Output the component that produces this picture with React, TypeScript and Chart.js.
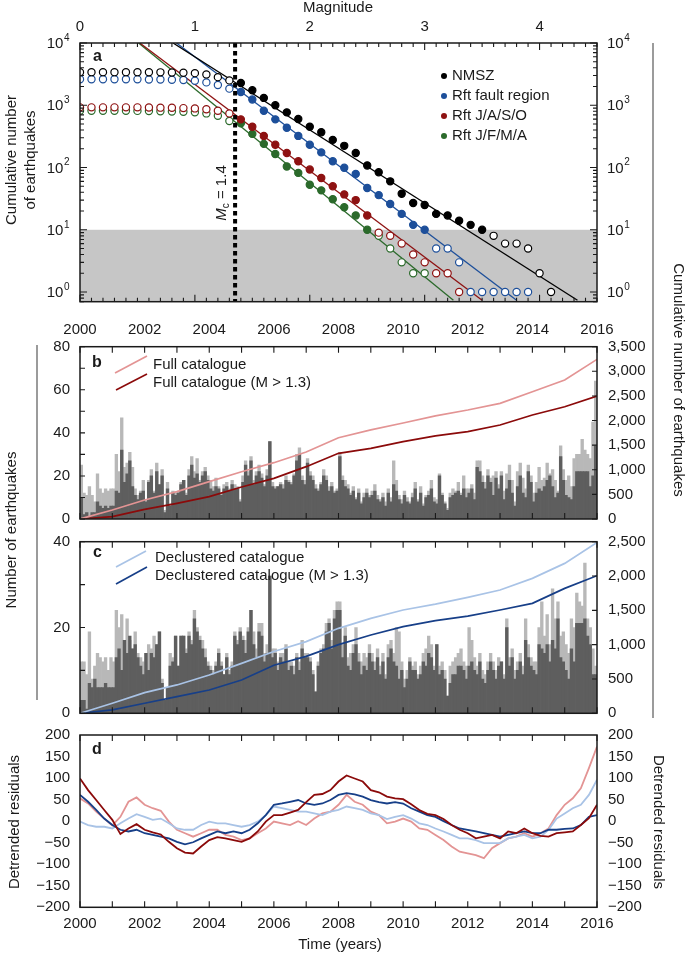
import React, { useEffect, useRef } from "react";
import { Chart, registerables } from "chart.js";

Chart.register(...registerables);

const W = 685;
const H = 955;
const FONT = "'Liberation Sans', Arial, Helvetica, sans-serif";
const INK = "#1a1a1a";

// ---------------- Panel a: magnitude–frequency ----------------
const MAGNITUDES = [
  0.0, 0.1, 0.2, 0.3, 0.4, 0.5, 0.6, 0.7, 0.8, 0.9, 1.0, 1.1, 1.2, 1.3,
  1.4, 1.5, 1.6, 1.7, 1.8, 1.9, 2.0, 2.1, 2.2, 2.3, 2.4, 2.5,
  2.6, 2.7, 2.8, 2.9, 3.0, 3.1, 3.2, 3.3, 3.4, 3.5, 3.6, 3.7, 3.8, 3.9, 4.0, 4.1,
];
const NMSZ_COUNTS = [
  3400, 3400, 3400, 3400, 3400, 3400, 3390, 3380, 3350, 3320, 3280, 3130, 2830, 2510,
  2275, 1740, 1312, 1000, 768, 601, 453, 369, 278, 223, 171, 108,
  84, 60, 38, 27, 25, 18, 17, 14, 12, 10, 8, 6, 6, 5, 2, 1,
];
const RFT_FAULT_COUNTS = [
  2610, 2610, 2610, 2610, 2610, 2605, 2600, 2590, 2570, 2540, 2480, 2330, 2120, 1850,
  1634, 1237, 815, 594, 436, 322, 232, 175, 126, 99, 79, 47,
  36, 26, 18, 12, 10, 5, 5, 3, 1, 1, 1, 1, 1, 1, null, null,
];
const RFT_JASO_COUNTS = [
  925, 925, 925, 925, 925, 925, 920, 915, 910, 900, 890, 865, 815, 740,
  594, 453, 322, 232, 171, 126, 93, 68, 50, 37, 30, 17,
  9, 8, 6, 4, 3, 2, 2, 1, null, null, null, null, null, null, null, null,
];
const RFT_JFMA_COUNTS = [
  815, 815, 815, 815, 815, 812, 808, 800, 795, 785, 770, 740, 680, 558,
  513, 347, 240, 165, 104, 82, 53, 43, 31, 23, 17, 10,
  8, 5, 3, 2, 2, null, null, null, null, null, null, null, null, null, null, null,
];
// fitted Gutenberg–Richter lines: [magnitude, count] end points
const NMSZ_FIT = [[0.81, 10000], [4.33, 0.74]];
const RFT_FAULT_FIT = [[0.84, 10000], [3.8, 0.74]];
const RFT_JASO_FIT = [[0.52, 10000], [3.5, 0.74]];
const RFT_JFMA_FIT = [[0.51, 10000], [3.25, 0.74]];
const SERIES_NAMES_A = ["NMSZ", "Rft fault region", "Rft J/A/S/O", "Rft J/F/M/A"];
const MAG_LABELS = [0, 1, 2, 3, 4];
const COUNT_DECADES = [0, 1, 2, 3, 4];
const MC_LABEL = "1.4";
const MC_VALUE = 1.4;
const MC_LINE_MAG = 1.35;
const SPARSE_LIMIT = 10;

// ---------------- Panels b & c: monthly counts 2000–2015 ----------------
const FULL_ALL = [
  25, 12, 11, 15, 11, 8, 21, 14, 12, 14, 13, 14,
  14, 30, 22, 47, 24, 26, 31, 24, 14, 11, 13, 18,
  9, 18, 23, 13, 26, 16, 23, 4, 17, 7, 13, 12,
  13, 17, 18, 12, 23, 29, 22, 28, 18, 22, 24, 20,
  18, 15, 19, 15, 12, 16, 17, 14, 18, 16, 15, 9,
  20, 27, 22, 29, 18, 22, 25, 21, 16, 23, 36, 17,
  15, 15, 17, 16, 20, 18, 17, 21, 30, 33, 20, 18,
  28, 22, 20, 16, 14, 17, 23, 20, 15, 17, 13, 14,
  31, 20, 18, 16, 12, 15, 10, 14, 8, 12, 14, 11,
  13, 16, 11, 9, 12, 8, 14, 10, 27, 18, 11, 9,
  13, 10, 8, 12, 17, 9, 15, 7, 11, 13, 18, 10,
  9, 21, 12, 8, 5, 12, 14, 13, 17, 12, 20, 14,
  14, 16, 12, 27, 27, 20, 17, 23, 19, 20, 22, 16,
  22, 13, 21, 25, 18, 8, 22, 26, 19, 14, 25, 20,
  12, 17, 24, 18, 19, 26, 21, 23, 18, 13, 34, 23,
  18, 20, 15, 28, 30, 30, 37, 32, 30, 28, 45, 64,
];
const FULL_M13 = [
  10, 2, 3, 1, 3, 3, 8, 6, 5, 6, 5, 6,
  6, 13, 12, 32, 17, 21, 27, 15, 11, 9, 12, 13,
  8, 17, 20, 12, 22, 16, 20, 3, 14, 6, 12, 11,
  12, 16, 18, 11, 20, 25, 19, 21, 17, 20, 22, 18,
  14, 13, 15, 14, 11, 14, 15, 13, 16, 14, 14, 8,
  17, 25, 20, 27, 16, 20, 22, 19, 15, 20, 36, 15,
  14, 15, 16, 14, 18, 17, 16, 20, 27, 30, 18, 16,
  26, 20, 18, 14, 13, 16, 20, 18, 13, 15, 12, 13,
  29, 18, 15, 14, 11, 13, 9, 12, 7, 10, 12, 10,
  11, 13, 9, 8, 10, 6, 12, 8, 16, 13, 9, 7,
  11, 8, 7, 10, 14, 8, 12, 6, 10, 11, 14, 8,
  7, 20, 11, 7, 4, 10, 11, 12, 13, 11, 14, 10,
  12, 14, 9, 24, 22, 17, 14, 20, 17, 11, 19, 14,
  20, 9, 14, 18, 12, 6, 15, 20, 12, 10, 22, 17,
  8, 12, 14, 13, 15, 18, 20, 15, 10, 12, 29, 18,
  11, 10, 9, 15, 22, 22, 22, 22, 22, 15, 20, 34,
];
const DECL_ALL = [
  12, 12, 9, 19, 8, 11, 14, 13, 12, 13, 10, 13,
  12, 24, 20, 23, 17, 22, 17, 15, 19, 14, 13, 12,
  14, 16, 15, 18, 16, 19, 8, 3, 6, 14, 13, 18,
  11, 18, 18, 15, 19, 17, 24, 20, 18, 17, 15, 12,
  11, 10, 12, 15, 12, 9, 14, 10, 12, 19, 17, 20,
  18, 17, 20, 24, 19, 15, 21, 21, 14, 16, 32, 15,
  15, 12, 14, 14, 16, 12, 12, 11, 14, 12, 17, 14,
  14, 13, 10, 5, 12, 15, 16, 21, 22, 17, 24, 26,
  26, 16, 20, 13, 14, 16, 20, 14, 12, 14, 13, 16,
  14, 12, 15, 11, 14, 9, 16, 17, 14, 20, 19, 12,
  8, 10, 13, 11, 12, 9, 11, 14, 15, 18, 16, 11,
  16, 11, 12, 10, 4, 11, 12, 13, 14, 15, 12, 11,
  20, 17, 13, 11, 14, 10, 9, 12, 14, 12, 10, 13,
  12, 9, 22, 13, 15, 10, 12, 14, 11, 22, 16, 13,
  12, 12, 20, 26, 18, 23, 16, 29, 22, 26, 18, 19,
  16, 14, 22, 20, 28, 26, 25, 35, 22, 20, 15, 11,
];
const DECL_M13 = [
  3, 3, 1, 7, 6, 8, 6, 6, 6, 7, 6, 6,
  6, 13, 15, 10, 17, 14, 18, 15, 16, 13, 11, 9,
  14, 10, 14, 13, 16, 19, 7, 3, 6, 11, 12, 18,
  11, 18, 18, 14, 18, 16, 22, 19, 17, 15, 13, 11,
  10, 9, 11, 14, 11, 9, 13, 9, 11, 18, 16, 19,
  17, 14, 19, 24, 16, 13, 19, 18, 12, 14, 32, 13,
  14, 10, 13, 12, 15, 10, 11, 9, 13, 10, 15, 13,
  13, 12, 9, 5, 11, 14, 15, 19, 21, 15, 22, 24,
  24, 13, 18, 11, 10, 14, 16, 12, 9, 11, 10, 14,
  12, 10, 13, 9, 12, 8, 13, 15, 12, 11, 8, 10,
  6, 8, 12, 10, 10, 8, 9, 12, 11, 14, 13, 10,
  16, 9, 10, 8, 4, 7, 9, 9, 11, 11, 10, 8,
  11, 12, 10, 9, 12, 8, 7, 10, 12, 10, 8, 11,
  12, 8, 20, 11, 13, 8, 10, 12, 9, 17, 13, 11,
  10, 9, 16, 15, 14, 16, 12, 17, 15, 22, 13, 12,
  10, 8, 15, 12, 21, 21, 21, 22, 18, 16, 9, 9,
];
// cumulative totals at the start of each year 2000..2016
const CUM_YEARS = [2000, 2001, 2002, 2003, 2004, 2005, 2006, 2007, 2008, 2009, 2010, 2011, 2012, 2013, 2014, 2015, 2016];
const FULL_CUM = [0, 183, 386, 555, 758, 961, 1144, 1360, 1650, 1810, 1950, 2095, 2214, 2349, 2586, 2823, 3243];
const FULL_M13_CUM = [0, 47, 196, 318, 454, 650, 826, 1063, 1334, 1435, 1571, 1690, 1774, 1909, 2112, 2281, 2498];
const DECL_CUM = [0, 146, 301, 413, 558, 728, 900, 1044, 1238, 1383, 1505, 1590, 1690, 1796, 1966, 2184, 2490];
const DECL_M13_CUM = [0, 49, 146, 243, 340, 485, 700, 830, 1000, 1140, 1262, 1350, 1417, 1505, 1602, 1820, 2005];

// ---------------- Panel d: detrended residuals (quarterly) ----------------
const FULL_RES = [
  53, 41, 22, 6, -10, 10, 45, 55, 38, 30, 24, -1, -20, -28, -36, -28,
  -20, -20, -32, -36, -44, -40, -28, -17, -1, -5, -9, 0, -9, 6, 18, 22,
  38, 61, 45, 38, 22, 14, -5, -1, 6, -1, -17, -20, -32, -44, -59, -71,
  -75, -79, -86, -63, -51, -40, -36, -28, -36, -28, -17, 14, 38, 53, 76, 123, 173,
];
const FULL_M13_RES = [
  99, 72, 49, 26, 3, -30, -17, -7, -20, -26, -31, -48, -63, -73, -75, -59,
  -44, -37, -40, -44, -48, -40, -24, -1, 14, 14, 20, 26, 44, 61, 63, 72,
  92, 106, 99, 92, 72, 67, 57, 53, 51, 39, 26, 17, 14, 5, -9, -20,
  -28, -40, -36, -32, -40, -24, -28, -17, -28, -34, -36, -28, -26, -24, -9, 7, 38,
];
const DECL_RES = [
  -1, -9, -13, -13, -17, -5, 6, 16, 10, 3, 6, -5, -17, -20, -20, -9,
  -1, -5, -5, -9, -13, -9, -1, 14, 34, 30, 26, 22, 22, 18, 14, 22,
  26, 34, 30, 26, 18, 14, 5, 10, 14, 6, -5, -9, -17, -24, -32, -40,
  -40, -44, -51, -51, -51, -40, -36, -32, -40, -36, -20, 6, 18, 30, 38, 61, 96,
];
const DECL_M13_RES = [
  61, 45, 26, 6, -9, -20, -24, -20, -28, -32, -36, -40, -48, -54, -49, -40,
  -32, -24, -28, -24, -28, -20, -5, 14, 38, 41, 45, 49, 41, 38, 41, 49,
  61, 65, 62, 57, 49, 44, 41, 44, 41, 30, 22, 14, 10, 0, -9, -17,
  -20, -24, -28, -32, -36, -32, -28, -24, -28, -28, -20, -20, -18, -17, -9, 10, 14,
];

// ---------------- colours ----------------
const C_BLACK = "#000000";
const C_BLUE = "#1d4f9a";
const C_RED = "#8e1212";
const C_GREEN = "#2b6a2b";
const C_PINK = "#e39494";
const C_DARKRED = "#8b0a0a";
const C_LIGHTBLUE = "#a9c3e6";
const C_DARKBLUE = "#173f88";
const C_BAR_LIGHT = "#b8b8b8";
const C_BAR_DARK = "#5e5e5e";
const C_BAND = "#c6c6c6";

// ---------------- helpers ----------------
const monthly = (vals: number[]) => vals.map((v, i) => ({ x: 2000 + (i + 0.5) / 12, y: v }));
const yearly = (vals: number[]) => vals.map((v, i) => ({ x: CUM_YEARS[i], y: v }));
const quarterly = (vals: number[]) => vals.map((v, i) => ({ x: 2000 + i / 4, y: v }));
const fitPts = (f: number[][]) => f.map(([x, y]) => ({ x, y }));
const fixH = (h: number) => (s: any) => { s.height = h; };
const fixW = (w: number) => (s: any) => { s.width = w; };
const comma = (v: number) => Number(v).toLocaleString("en-US");
const minus = (v: number) => (v < 0 ? "\u2212" + Math.abs(v) : String(v));

// plot-area geometry (left/right shared by all panels)
const PL = 80;
const PR = 597;
const TOP_A = 43, BOT_A = 301.7;
const TOP_B = 346.7, BOT_B = 519;
const TOP_C = 541.7, BOT_C = 713.3;
const TOP_D = 735, BOT_D = 907.3;

function txt(ctx: CanvasRenderingContext2D, s: string, x: number, y: number, o: any = {}) {
  ctx.save();
  ctx.font = `${o.style || "normal"} ${o.weight || "normal"} ${o.size || 15}px ${FONT}`;
  ctx.fillStyle = o.color || INK;
  ctx.textAlign = o.align || "left";
  ctx.textBaseline = o.baseline || "middle";
  ctx.translate(x, y);
  if (o.rotate) ctx.rotate(o.rotate);
  ctx.fillText(s, 0, 0);
  ctx.restore();
}

function frame(chart: any) {
  const { ctx, chartArea: a } = chart;
  ctx.save();
  ctx.strokeStyle = INK;
  ctx.lineWidth = 1.5;
  ctx.strokeRect(a.left, a.top, a.right - a.left, a.bottom - a.top);
  ctx.restore();
}

function ticksX(chart: any, id: string, vals: number[], len: (v: number) => number) {
  const { ctx, chartArea: a } = chart;
  const s = chart.scales[id];
  ctx.save();
  ctx.strokeStyle = INK;
  ctx.lineWidth = 1.1;
  ctx.beginPath();
  for (const v of vals) {
    const p = s.getPixelForValue(v);
    const l = len(v);
    ctx.moveTo(p, a.top);
    ctx.lineTo(p, a.top + l);
    ctx.moveTo(p, a.bottom);
    ctx.lineTo(p, a.bottom - l);
  }
  ctx.stroke();
  ctx.restore();
}

function ticksY(chart: any, id: string, vals: number[], len: (v: number) => number, side: string) {
  const { ctx, chartArea: a } = chart;
  const s = chart.scales[id];
  ctx.save();
  ctx.strokeStyle = INK;
  ctx.lineWidth = 1.1;
  ctx.beginPath();
  for (const v of vals) {
    const p = s.getPixelForValue(v);
    const l = len(v);
    if (side === "left" || side === "both") {
      ctx.moveTo(a.left, p);
      ctx.lineTo(a.left + l, p);
    }
    if (side === "right" || side === "both") {
      ctx.moveTo(a.right, p);
      ctx.lineTo(a.right - l, p);
    }
  }
  ctx.stroke();
  ctx.restore();
}

function vline(ctx: CanvasRenderingContext2D, x: number, y0: number, y1: number) {
  ctx.save();
  ctx.strokeStyle = "#7a7a7a";
  ctx.lineWidth = 1.5;
  ctx.beginPath();
  ctx.moveTo(x, y0);
  ctx.lineTo(x, y1);
  ctx.stroke();
  ctx.restore();
}

function legendLine(ctx: CanvasRenderingContext2D, color: string, x0: number, y0: number, x1: number, y1: number) {
  ctx.save();
  ctx.strokeStyle = color;
  ctx.lineWidth = 1.7;
  ctx.beginPath();
  ctx.moveTo(x0, y0);
  ctx.lineTo(x1, y1);
  ctx.stroke();
  ctx.restore();
}

const range = (a: number, b: number, step: number) => {
  const out: number[] = [];
  for (let v = a; v <= b + 1e-9; v += step) out.push(Math.round(v * 1000) / 1000);
  return out;
};
const YEAR_TICKS = range(2000, 2016, 1);

function baseOptions(pad: { left: number; top: number; right: number; bottom: number }) {
  return {
    responsive: false,
    maintainAspectRatio: false,
    animation: false,
    devicePixelRatio: 1,
    events: [],
    layout: { padding: pad, autoPadding: false },
    plugins: { legend: { display: false }, tooltip: { enabled: false } },
  };
}

function linearAxis(extra: any) {
  return {
    type: "linear",
    offset: false,
    grid: { display: false, drawTicks: false },
    border: { display: false },
    ...extra,
    ticks: {
      autoSkip: false,
      maxRotation: 0,
      minRotation: 0,
      includeBounds: false,
      color: INK,
      font: { size: 15, family: FONT },
      ...(extra.ticks || {}),
    },
  };
}

// ---------------- chart configs ----------------
function configA(): any {
  const counts = [NMSZ_COUNTS, RFT_FAULT_COUNTS, RFT_JASO_COUNTS, RFT_JFMA_COUNTS];
  const fits = [NMSZ_FIT, RFT_FAULT_FIT, RFT_JASO_FIT, RFT_JFMA_FIT];
  const colors = [C_BLACK, C_BLUE, C_RED, C_GREEN];
  const pointSets = counts.map((c, k) => ({
    type: "scatter",
    label: SERIES_NAMES_A[k],
    data: MAGNITUDES.map((m, i) => (c[i] == null ? null : { x: m, y: c[i] })).filter(Boolean),
    showLine: false,
    pointRadius: 3.6,
    pointBorderWidth: 1.2,
    pointBorderColor: colors[k],
    pointBackgroundColor: (ctx: any) => {
      const r = ctx.raw;
      return r && r.x >= MC_VALUE - 0.01 && r.y >= SPARSE_LIMIT ? colors[k] : "#ffffff";
    },
    order: 0,
  }));
  const lineSets = fits.map((f, k) => ({
    type: "line",
    data: fitPts(f),
    borderColor: colors[k],
    borderWidth: 1.3,
    pointRadius: 0,
    order: 1,
  }));

  const plugin = {
    id: "panelA",
    beforeDatasetsDraw(chart: any) {
      const { ctx, chartArea: a } = chart;
      const yt = chart.scales.y.getPixelForValue(SPARSE_LIMIT);
      ctx.save();
      ctx.fillStyle = C_BAND;
      ctx.fillRect(a.left, yt, a.right - a.left, a.bottom - yt);
      ctx.restore();
    },
    afterDatasetsDraw(chart: any) {
      const { ctx, chartArea: a } = chart;
      const x = chart.scales.x.getPixelForValue(MC_LINE_MAG);
      ctx.save();
      ctx.strokeStyle = "#000";
      ctx.lineWidth = 4;
      ctx.setLineDash([4.5, 3.5]);
      ctx.beginPath();
      ctx.moveTo(x, a.top);
      ctx.lineTo(x, a.bottom);
      ctx.stroke();
      ctx.restore();
    },
    afterDraw(chart: any) {
      const { ctx } = chart;
      frame(chart);
      ticksX(chart, "x", range(0, 4.5, 0.1), (v) => (Math.abs(v - Math.round(v)) < 1e-6 ? 7 : 4));
      const logTicks: number[] = [];
      for (let k = -1; k <= 3; k++) for (let m = 1; m <= 9; m++) logTicks.push(m * Math.pow(10, k));
      logTicks.push(10000);
      const yMin = chart.scales.y.min;
      ticksY(chart, "y", logTicks.filter((v) => v >= yMin), (v) => (Math.abs(Math.log10(v) - Math.round(Math.log10(v))) < 1e-9 ? 7 : 4), "both");
      // log labels with superscripts
      const y = chart.scales.y;
      for (const k of COUNT_DECADES) {
        const py = y.getPixelForValue(Math.pow(10, k));
        ctx.save();
        ctx.font = `15px ${FONT}`;
        const w10 = ctx.measureText("10").width;
        ctx.font = `10px ${FONT}`;
        const we = ctx.measureText(String(k)).width;
        ctx.restore();
        const xl = 69 - we - w10;
        txt(ctx, "10", xl, py + 1);
        txt(ctx, String(k), xl + w10 + 0.5, py - 5, { size: 10 });
        const xr = 607;
        txt(ctx, "10", xr, py + 1);
        txt(ctx, String(k), xr + w10 + 0.5, py - 5, { size: 10 });
      }
      txt(ctx, "a", 93, 57, { weight: "bold", size: 16 });
      txt(ctx, "Magnitude", 338, 8, { align: "center" });
      txt(ctx, "Cumulative number", 12, 160, { align: "center", rotate: -Math.PI / 2 });
      txt(ctx, "of earthquakes", 31, 160, { align: "center", rotate: -Math.PI / 2 });
      // legend
      SERIES_NAMES_A.forEach((name, i) => {
        const ly = 76 + i * 20;
        ctx.save();
        ctx.fillStyle = colors[i];
        ctx.beginPath();
        ctx.arc(444, ly, 3, 0, Math.PI * 2);
        ctx.fill();
        ctx.restore();
        txt(ctx, name, 452, ly);
      });
      // Mc label (rotated)
      ctx.save();
      ctx.translate(222, 193);
      ctx.rotate(-Math.PI / 2);
      ctx.fillStyle = INK;
      ctx.textBaseline = "middle";
      ctx.font = `italic 15px ${FONT}`;
      const wM = ctx.measureText("M").width;
      ctx.font = `10px ${FONT}`;
      const wc = ctx.measureText("c").width;
      ctx.font = `15px ${FONT}`;
      const rest = " = " + MC_LABEL;
      const wr = ctx.measureText(rest).width;
      const x0 = -(wM + wc + wr) / 2;
      ctx.font = `italic 15px ${FONT}`;
      ctx.fillText("M", x0, 0);
      ctx.font = `10px ${FONT}`;
      ctx.fillText("c", x0 + wM, 4);
      ctx.font = `15px ${FONT}`;
      ctx.fillText(rest, x0 + wM + wc, 0);
      ctx.restore();
      // right-hand shared label
      vline(ctx, 653, 43, 718);
      txt(ctx, "Cumulative number of earthquakes", 678, 380, { align: "center", rotate: Math.PI / 2 });
    },
  };

  return {
    type: "scatter",
    data: { datasets: [...pointSets, ...lineSets] },
    options: {
      ...baseOptions({ left: 0, top: 0, right: W - PR, bottom: H - BOT_A }),
      scales: {
        x: linearAxis({
          position: "top",
          min: 0,
          max: 4.5,
          afterFit: fixH(TOP_A),
          ticks: { stepSize: 1, padding: 7, callback: (v: number) => (MAG_LABELS.includes(v) ? String(v) : "") },
        }),
        y: {
          type: "logarithmic",
          position: "left",
          min: 0.74,
          max: 10000,
          grid: { display: false, drawTicks: false },
          border: { display: false },
          ticks: { display: false },
          afterFit: fixW(PL),
        },
      },
    },
    plugins: [plugin],
  };
}

function configBars(opts: any): any {
  const plugin = {
    id: opts.id,
    afterDraw(chart: any) {
      const { ctx } = chart;
      frame(chart);
      ticksX(chart, "x", YEAR_TICKS, () => 6);
      ticksY(chart, "y", range(0, opts.yMax, 10), () => 5, "left");
      ticksY(chart, "y2", range(0, opts.y2Max, 500), () => 5, "right");
      opts.decorate(ctx, chart);
    },
  };
  return {
    type: "bar",
    data: {
      datasets: [
        { type: "line", data: yearly(opts.cumAll), yAxisID: "y2", borderColor: opts.cAll, borderWidth: 1.7, pointRadius: 0, order: 0 },
        { type: "line", data: yearly(opts.cumM13), yAxisID: "y2", borderColor: opts.cM13, borderWidth: 1.7, pointRadius: 0, order: 0 },
        { type: "bar", data: monthly(opts.m13), yAxisID: "y", backgroundColor: C_BAR_DARK, borderWidth: 0, grouped: false, barPercentage: 1, categoryPercentage: 1, order: 1 },
        { type: "bar", data: monthly(opts.all), yAxisID: "y", backgroundColor: C_BAR_LIGHT, borderWidth: 0, grouped: false, barPercentage: 1, categoryPercentage: 1, order: 2 },
      ],
    },
    options: {
      ...baseOptions({ left: 0, top: 0, right: 0, bottom: H - opts.bottom }),
      scales: {
        x: linearAxis({
          position: "top",
          min: 2000,
          max: 2016,
          afterFit: fixH(opts.top),
          ticks: { display: opts.showYears, stepSize: 2, padding: 8, callback: (v: number) => String(v) },
        }),
        y: linearAxis({
          position: "left",
          min: 0,
          max: opts.yMax,
          afterFit: fixW(PL),
          ticks: { stepSize: 20, padding: 10, callback: (v: number) => String(v) },
        }),
        y2: linearAxis({
          position: "right",
          min: 0,
          max: opts.y2Max,
          afterFit: fixW(W - PR),
          ticks: { stepSize: 500, padding: 11, callback: (v: number) => comma(v) },
        }),
      },
    },
    plugins: [plugin],
  };
}

function configB(): any {
  return configBars({
    id: "panelB",
    top: TOP_B,
    bottom: BOT_B,
    all: FULL_ALL,
    m13: FULL_M13,
    cumAll: FULL_CUM,
    cumM13: FULL_M13_CUM,
    cAll: C_PINK,
    cM13: C_DARKRED,
    yMax: 80,
    y2Max: 3500,
    showYears: true,
    decorate(ctx: CanvasRenderingContext2D) {
      txt(ctx, "b", 92, 363, { weight: "bold", size: 16 });
      legendLine(ctx, C_PINK, 115, 373, 147, 356);
      txt(ctx, "Full catalogue", 153, 365);
      legendLine(ctx, C_DARKRED, 116, 390, 147, 374);
      txt(ctx, "Full catalogue (M > 1.3)", 153, 383);
      vline(ctx, 37, 345, 700);
      txt(ctx, "Number of earthquakes", 12, 530, { align: "center", rotate: -Math.PI / 2 });
    },
  });
}

function configC(): any {
  return configBars({
    id: "panelC",
    top: TOP_C,
    bottom: BOT_C,
    all: DECL_ALL,
    m13: DECL_M13,
    cumAll: DECL_CUM,
    cumM13: DECL_M13_CUM,
    cAll: C_LIGHTBLUE,
    cM13: C_DARKBLUE,
    yMax: 40,
    y2Max: 2500,
    showYears: false,
    decorate(ctx: CanvasRenderingContext2D) {
      txt(ctx, "c", 93, 553, { weight: "bold", size: 16 });
      legendLine(ctx, C_LIGHTBLUE, 116, 567, 146, 551);
      txt(ctx, "Declustered catalogue", 155, 558);
      legendLine(ctx, C_DARKBLUE, 116, 584, 147, 567);
      txt(ctx, "Declustered catalogue (M > 1.3)", 155, 576);
    },
  });
}

function configD(): any {
  const series = [
    { data: FULL_RES, color: C_PINK, order: 3 },
    { data: DECL_RES, color: C_LIGHTBLUE, order: 2 },
    { data: DECL_M13_RES, color: C_DARKBLUE, order: 1 },
    { data: FULL_M13_RES, color: C_DARKRED, order: 0 },
  ];
  const plugin = {
    id: "panelD",
    afterDraw(chart: any) {
      const { ctx } = chart;
      frame(chart);
      ticksX(chart, "x", YEAR_TICKS, () => 6);
      txt(ctx, "d", 92, 750, { weight: "bold", size: 16 });
      txt(ctx, "Detrended residuals", 15, 822, { align: "center", rotate: -Math.PI / 2 });
      txt(ctx, "Detrended residuals", 658, 822, { align: "center", rotate: Math.PI / 2 });
      txt(ctx, "Time (years)", 340, 945, { align: "center" });
    },
  };
  return {
    type: "line",
    data: {
      datasets: series.map((s) => ({
        data: quarterly(s.data),
        borderColor: s.color,
        borderWidth: 1.8,
        pointRadius: 0,
        order: s.order,
      })),
    },
    options: {
      ...baseOptions({ left: 0, top: TOP_D, right: 0, bottom: 0 }),
      scales: {
        x: linearAxis({
          position: "bottom",
          min: 2000,
          max: 2016,
          afterFit: fixH(H - BOT_D),
          ticks: { stepSize: 2, padding: 8, callback: (v: number) => String(v) },
        }),
        y: linearAxis({
          position: "left",
          min: -200,
          max: 200,
          afterFit: fixW(PL),
          ticks: { stepSize: 50, padding: 10, callback: (v: number) => minus(v) },
        }),
        y2: linearAxis({
          position: "right",
          min: -200,
          max: 200,
          afterFit: fixW(W - PR),
          ticks: { stepSize: 50, padding: 11, callback: (v: number) => minus(v) },
        }),
      },
    },
    plugins: [plugin],
  };
}

export default function App() {
  const refA = useRef<HTMLCanvasElement>(null);
  const refB = useRef<HTMLCanvasElement>(null);
  const refC = useRef<HTMLCanvasElement>(null);
  const refD = useRef<HTMLCanvasElement>(null);

  useEffect(() => {
    Chart.defaults.font.family = FONT;
    Chart.defaults.color = INK;
    const charts = [
      new Chart(refA.current as HTMLCanvasElement, configA()),
      new Chart(refB.current as HTMLCanvasElement, configB()),
      new Chart(refC.current as HTMLCanvasElement, configC()),
      new Chart(refD.current as HTMLCanvasElement, configD()),
    ];
    return () => charts.forEach((c) => c.destroy());
  }, []);

  const cs: React.CSSProperties = { position: "absolute", left: 0, top: 0, width: W, height: H };
  return (
    <div style={{ position: "absolute", left: 0, top: 0, width: W, height: H, background: "#ffffff", overflow: "hidden" }}>
      <canvas ref={refA} width={W} height={H} style={cs} />
      <canvas ref={refB} width={W} height={H} style={cs} />
      <canvas ref={refC} width={W} height={H} style={cs} />
      <canvas ref={refD} width={W} height={H} style={cs} />
    </div>
  );
}
